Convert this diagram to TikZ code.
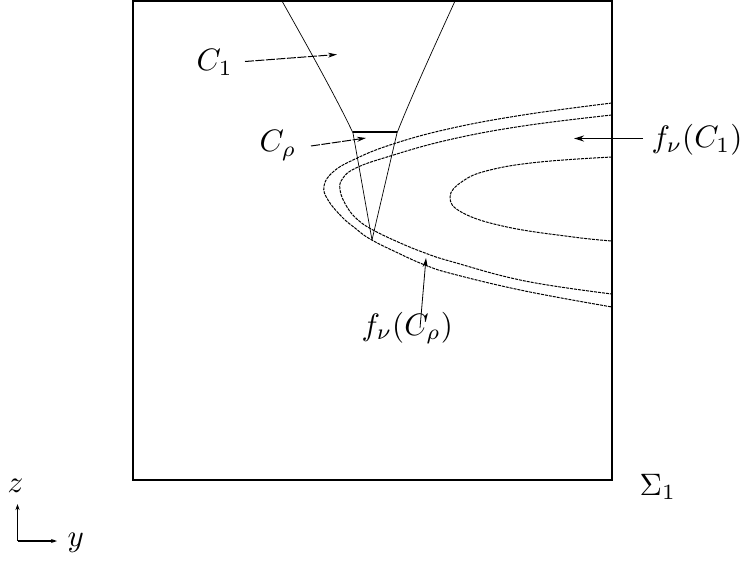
\documentclass[tikz,border=0pt]{standalone}
\usetikzlibrary{arrows.meta}
\tikzset{
  lbl/.style={inner sep=0pt, anchor=base west, scale=3.1, transform shape},
  frame/.style={line width=1.8pt},
  cone/.style={line width=0.7pt},
  bar/.style={line width=2pt},
  curve/.style={line width=1pt, dash pattern=on 3pt off 1pt},
  ptr/.style={line width=1pt, dash pattern=on 9pt off 1.5pt, -{Stealth[length=9pt,width=5pt]}},
  ptrsolid/.style={line width=0.8pt, -{Stealth[length=9pt,width=5pt]}},
  ptrthick/.style={line width=1.8pt, -{Stealth[length=10pt,width=6pt]}},
  axis/.style={line width=1.8pt, -{Stealth[length=6pt,width=4pt]}}
}
\begin{document}
\begin{tikzpicture}[x=1pt,y=-1pt]
\useasboundingbox (0,0) rectangle (741,561);
% frame
\draw[frame] (133,1) rectangle (612,480);
% cone C_1
\draw[cone] (282,1) .. controls (305,42) and (335,95) .. (353,133) -- (372,240);
\draw[cone] (455,1) .. controls (435,45) and (412,95) .. (397,133) -- (372,240);
\draw[bar] (353,132.5) -- (397,132.5);
% f_nu curves
\draw[curve] plot[smooth, tension=0.7] coordinates {(612,103) (523,115) (448,129) (390,145) (353,160) (333,172) (324,186) (328,200) (342,217) (355,228) (370,239) (398,253) (425,265) (453,274) (525,291) (612,307)};
\draw[curve] plot[smooth, tension=0.7] coordinates {(612,115) (523,126) (448,140) (387,157) (356,168) (343,178) (340,190) (347,207) (358,220) (373,230) (398,242) (425,253) (453,262) (525,281) (612,294)};
\draw[curve] plot[smooth, tension=0.7] coordinates {(612,157) (540,162) (490,170) (463,181) (450,197) (463,213) (507,227) (573,237) (612,241)};
% labels
\node[lbl] (c1) at (196,71) {$C_1$};
\node[lbl] (crho) at (259,152) {$C_\rho$};
\node[lbl] (fc1) at (651,148) {$f_\nu(C_1)$};
\node[lbl] (fcrho) at (361,335) {$f_\nu(C_\rho)$};
\node[lbl] (sig) at (639,495) {$\Sigma_1$};
\node[lbl] (zl) at (7,492) {$z$};
\node[lbl] (yl) at (67,546) {$y$};
% pointers
\coordinate (c1s) at (245,61.5);
\coordinate (c1e) at (337,54.5);
\coordinate (crs) at (311,146);
\coordinate (cre) at (366,138);
\coordinate (fc1s) at (643,138.5);
\coordinate (fc1e) at (574,138.5);
\coordinate (frs) at (420,328);
\coordinate (fre) at (426,258);
\draw[ptr] (c1s) -- (c1e);
\draw[ptr] (crs) -- (cre);
\draw[ptrthick] (fc1s) -- (fc1e);
\draw[ptrsolid] (frs) -- (fre);
% axes
\coordinate (o) at (17.5,541);
\coordinate (zt) at (17.5,504);
\coordinate (yt) at (57,541);
\draw[axis] (o) -- (zt);
\draw[axis] (o) -- (yt);
\end{tikzpicture}
\end{document}
